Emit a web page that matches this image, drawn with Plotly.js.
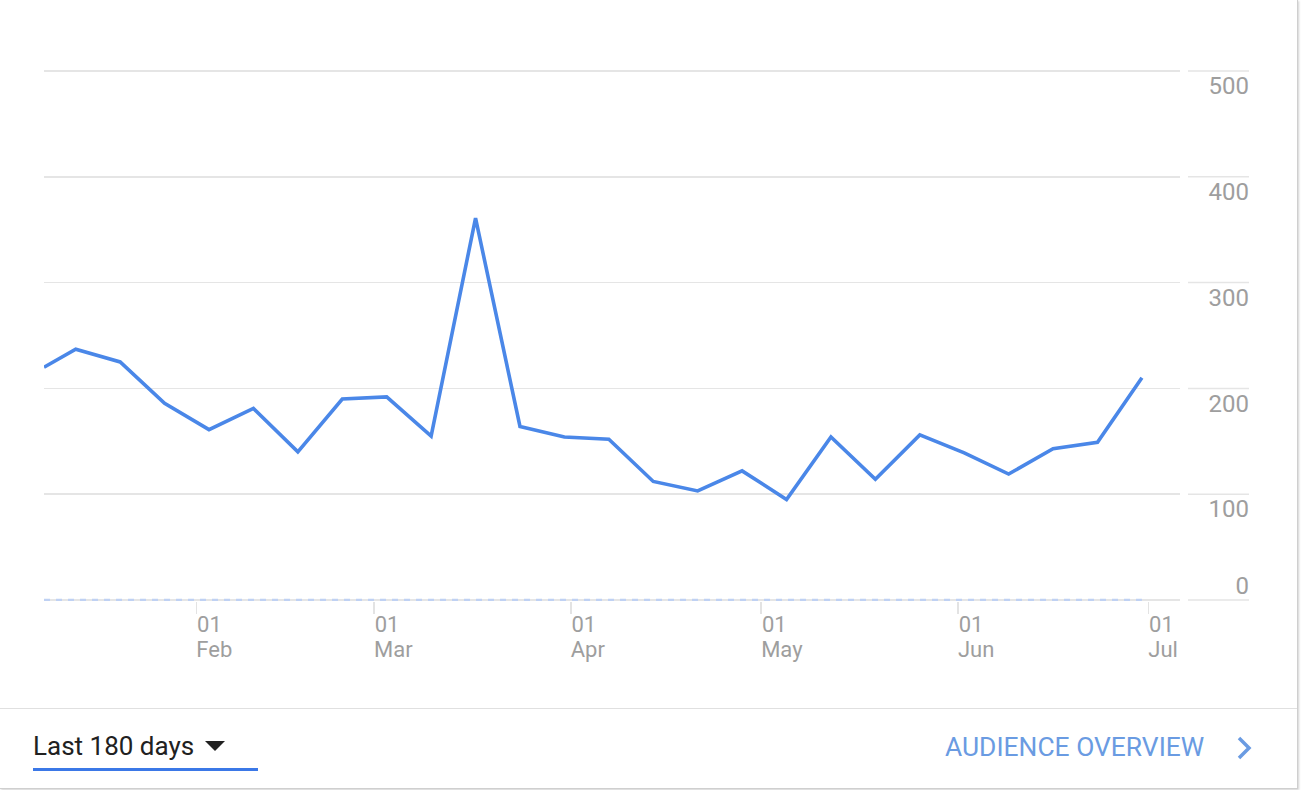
<!DOCTYPE html>
<html>
<head>
<meta charset="utf-8">
<script src="https://cdn.plot.ly/plotly-3.0.1.min.js"></script>
<style>
  html, body { margin: 0; padding: 0; background: #ffffff; }
  #wrap { position: relative; width: 1302px; height: 790px; overflow: hidden; font-family: Roboto, "Noto Sans", sans-serif; }
  #chart { position: absolute; left: 0; top: 0; width: 1302px; height: 790px; }
  #card { position: absolute; left: 0; top: 0; width: 1297px; height: 788px; border-right: 1px solid #cfcfcf; border-bottom: 1px solid #cfcfcf; box-shadow: 1px 1px 2px rgba(0,0,0,0.18); pointer-events: none; }
  #sep { position: absolute; left: 0; top: 708px; width: 1297px; height: 1px; background: #e0e0e0; }
  #range { position: absolute; left: 33px; top: 730px; font-size: 26px; color: #212121; white-space: nowrap; line-height: 32px; }
  #tri { position: absolute; left: 205px; top: 741px; width: 0; height: 0; border-left: 10px solid transparent; border-right: 10px solid transparent; border-top: 10px solid #212121; }
  #uline { position: absolute; left: 33px; top: 768px; width: 225px; height: 3px; background: #3b78e7; }
  #aud { position: absolute; left: 945px; top: 731px; font-size: 26.4px; color: #6a9be2; white-space: nowrap; line-height: 32px; }
  #chev { position: absolute; left: 1234px; top: 735px; }
</style>
</head>
<body>
<div id="wrap">
  <div id="chart"></div>
  <div id="card"></div>
  <div id="sep"></div>
  <div id="range">Last 180 days</div>
  <div id="tri"></div>
  <div id="uline"></div>
  <div id="aud">AUDIENCE OVERVIEW</div>
  <svg id="chev" width="22" height="28" viewBox="0 0 22 28"><polyline points="5,3 15,13 5,23" fill="none" stroke="#6a9be2" stroke-width="3.5"/></svg>
</div>
<script>
// Weekly users (first point is the partial period at the start of the range)
const weeks = [
  "2019-01-08", "2019-01-13", "2019-01-20", "2019-01-27", "2019-02-03", "2019-02-10",
  "2019-02-17", "2019-02-24", "2019-03-03", "2019-03-10", "2019-03-17", "2019-03-24",
  "2019-03-31", "2019-04-07", "2019-04-14", "2019-04-21", "2019-04-28", "2019-05-05",
  "2019-05-12", "2019-05-19", "2019-05-26", "2019-06-02", "2019-06-09", "2019-06-16",
  "2019-06-23", "2019-06-30"
];
const users = [
  220, 237, 225, 186, 161, 181,
  140, 190, 192, 155, 361, 164,
  154, 152, 112, 103, 122, 95,
  154, 114, 156, 139, 119, 143,
  149, 210
];
const monthTicks = ["2019-02-01", "2019-03-01", "2019-04-01", "2019-05-01", "2019-06-01", "2019-07-01"];
const yTicks = [100, 200, 300, 400, 500];
const yZeroTick = [0];
const xRange = ["2019-01-08", "2019-07-06"];
const yRange = [-1, 501];

const W = 1302, H = 790;
const mL = 44, mR = 53, mT = 70, mB = 189;
const paperW = W - mL - mR;
const plotRight = 1180;
const xDomEnd = (plotRight - mL) / paperW;
const segX0 = (1188 - mL) / paperW, segX1 = (1249 - mL) / paperW;

const gridColor = "#e5e5e5";
const fam = "Roboto, 'Noto Sans', sans-serif";
const xFont = { family: fam, size: 22, color: "#9e9e9e" };
const yFont = { family: fam, size: 24, color: "#9e9e9e" };

const traces = [
  {
    x: weeks, y: users, type: "scatter", mode: "lines",
    line: { color: "#4a87e8", width: 3.6 },
    hoverinfo: "skip", showlegend: false
  },
  {
    x: weeks, y: users, type: "scatter", mode: "none", xaxis: "x2", yaxis: "y2",
    hoverinfo: "skip", showlegend: false
  }
];

const shapes = [];
yTicks.concat(yZeroTick).forEach(v => {
  shapes.push({ type: "line", xref: "paper", yref: "y", x0: segX0, x1: segX1, y0: v, y1: v,
    line: { color: gridColor, width: 1.5 }, layer: "below" });
});
shapes.push({ type: "line", xref: "x", yref: "y", x0: weeks[0], x1: weeks[weeks.length - 1], y0: 0, y1: 0,
  line: { color: "#bfd1f3", width: 2.2, dash: "6px,6px" }, layer: "above" });

const layout = {
  width: W, height: H,
  margin: { l: mL, r: mR, t: mT, b: mB, pad: 0 },
  paper_bgcolor: "rgba(0,0,0,0)", plot_bgcolor: "rgba(0,0,0,0)",
  font: { family: fam },
  showlegend: false,
  xaxis: {
    type: "date", domain: [0, xDomEnd], range: xRange,
    tickvals: monthTicks, tickformat: "%d",
    ticks: "outside", ticklen: 12, tickwidth: 1.5, tickcolor: "#e3e3e3",
    ticklabelposition: "outside right", ticklabelstandoff: 4,
    tickfont: xFont,
    showgrid: false, zeroline: false, showline: false, fixedrange: true
  },
  xaxis2: {
    type: "date", overlaying: "x", anchor: "y2", side: "bottom", range: xRange,
    tickvals: monthTicks, tickformat: "%b",
    ticks: "", ticklabelposition: "outside right", ticklabelstandoff: 33,
    tickfont: xFont,
    showgrid: false, zeroline: false, showline: false, fixedrange: true
  },
  yaxis: {
    range: yRange, tickvals: yTicks, ticktext: yTicks.map(String),
    anchor: "free", position: 1, side: "left",
    ticklabelposition: "outside bottom", ticklabelshift: -2,
    ticks: "", tickfont: yFont,
    showgrid: true, gridcolor: gridColor, gridwidth: 1.5,
    zeroline: false, showline: false, fixedrange: true
  },
  yaxis2: {
    range: yRange, tickvals: yZeroTick, ticktext: yZeroTick.map(String),
    overlaying: "y", anchor: "free", position: 1, side: "left",
    ticklabelposition: "outside top", ticklabelshift: 2,
    ticks: "", tickfont: yFont,
    showgrid: true, gridcolor: gridColor, gridwidth: 1.5,
    zeroline: false, showline: false, fixedrange: true
  },
  shapes: shapes
};

Plotly.newPlot("chart", traces, layout, { staticPlot: true, displayModeBar: false });
</script>
</body>
</html>
